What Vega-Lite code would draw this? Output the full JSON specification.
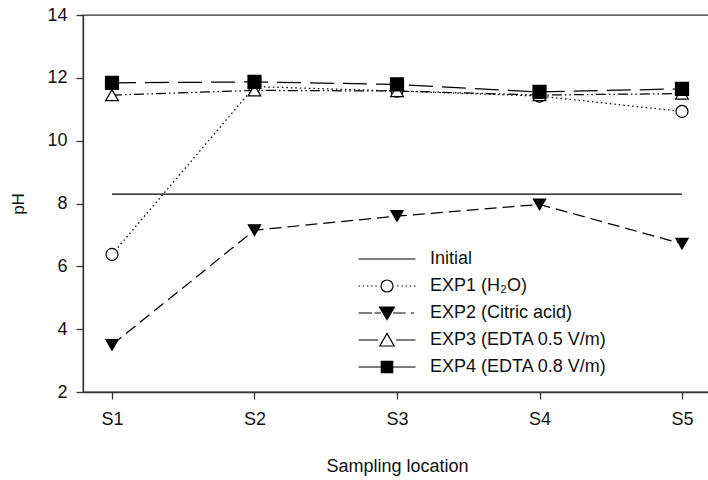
{
  "$schema": "https://vega.github.io/schema/vega-lite/v6.json",
  "width": 628,
  "height": 377,
  "autosize": {"type": "none"},
  "padding": {"left": 83, "top": 15, "right": 0, "bottom": 88},
  "background": "white",
  "config": {
    "font": "Liberation Sans",
    "view": {"stroke": "#333333", "strokeWidth": 1.3},
    "axis": {
      "labelFontSize": 18,
      "titleFontSize": 18,
      "titleFontWeight": "normal",
      "labelColor": "#111111",
      "titleColor": "#111111",
      "domainColor": "#333333",
      "tickColor": "#333333",
      "domainWidth": 1.3,
      "tickWidth": 1.3,
      "grid": false
    }
  },
  "data": {
    "values": [
      {"series": "Initial", "location": "S1", "pH": 8.3},
      {"series": "Initial", "location": "S2", "pH": 8.3},
      {"series": "Initial", "location": "S3", "pH": 8.3},
      {"series": "Initial", "location": "S4", "pH": 8.3},
      {"series": "Initial", "location": "S5", "pH": 8.3},
      {"series": "EXP1 (H₂O)", "location": "S1", "pH": 6.38},
      {"series": "EXP1 (H₂O)", "location": "S2", "pH": 11.72},
      {"series": "EXP1 (H₂O)", "location": "S3", "pH": 11.58},
      {"series": "EXP1 (H₂O)", "location": "S4", "pH": 11.42},
      {"series": "EXP1 (H₂O)", "location": "S5", "pH": 10.93},
      {"series": "EXP2 (Citric acid)", "location": "S1", "pH": 3.5},
      {"series": "EXP2 (Citric acid)", "location": "S2", "pH": 7.15},
      {"series": "EXP2 (Citric acid)", "location": "S3", "pH": 7.6},
      {"series": "EXP2 (Citric acid)", "location": "S4", "pH": 7.97},
      {"series": "EXP2 (Citric acid)", "location": "S5", "pH": 6.72},
      {"series": "EXP3 (EDTA 0.5 V/m)", "location": "S1", "pH": 11.45},
      {"series": "EXP3 (EDTA 0.5 V/m)", "location": "S2", "pH": 11.6},
      {"series": "EXP3 (EDTA 0.5 V/m)", "location": "S3", "pH": 11.58},
      {"series": "EXP3 (EDTA 0.5 V/m)", "location": "S4", "pH": 11.45},
      {"series": "EXP3 (EDTA 0.5 V/m)", "location": "S5", "pH": 11.5},
      {"series": "EXP4 (EDTA 0.8 V/m)", "location": "S1", "pH": 11.84},
      {"series": "EXP4 (EDTA 0.8 V/m)", "location": "S2", "pH": 11.87},
      {"series": "EXP4 (EDTA 0.8 V/m)", "location": "S3", "pH": 11.79},
      {"series": "EXP4 (EDTA 0.8 V/m)", "location": "S4", "pH": 11.55},
      {"series": "EXP4 (EDTA 0.8 V/m)", "location": "S5", "pH": 11.65}
    ]
  },
  "encoding": {
    "x": {
      "field": "location",
      "type": "ordinal",
      "scale": {"type": "point", "padding": 0.2035},
      "axis": {"title": "Sampling location", "labelAngle": 0, "tickSize": 7, "labelPadding": 11, "titlePadding": 29}
    },
    "y": {
      "field": "pH",
      "type": "quantitative",
      "scale": {"domain": [2, 14], "nice": false, "zero": false},
      "axis": {"title": "pH", "titleFontSize": 17, "values": [2, 4, 6, 8, 10, 12, 14], "tickSize": 7, "labelPadding": 9, "titlePadding": 19}
    }
  },
  "layer": [
    {
      "mark": {"type": "line", "color": "black", "strokeWidth": 1.25},
      "encoding": {
        "strokeDash": {
          "field": "series",
          "type": "nominal",
          "scale": {
            "domain": ["EXP1 (H₂O)", "EXP2 (Citric acid)", "EXP3 (EDTA 0.5 V/m)", "EXP4 (EDTA 0.8 V/m)", "Initial"],
            "range": [[1.5, 3], [12, 6], [10, 3, 1.5, 3, 1.5, 3], [24, 9], [1, 0]]
          },
          "legend": null
        }
      }
    },
    {
      "transform": [{"filter": "datum.series != 'Initial'"}],
      "mark": {"type": "point", "filled": true, "stroke": "black", "strokeWidth": 1.2, "opacity": 1},
      "encoding": {
        "shape": {
          "field": "series",
          "type": "nominal",
          "scale": {
            "domain": ["EXP1 (H₂O)", "EXP2 (Citric acid)", "EXP3 (EDTA 0.5 V/m)", "EXP4 (EDTA 0.8 V/m)"],
            "range": ["circle", "triangle-down", "triangle-up", "square"]
          },
          "legend": null
        },
        "size": {
          "field": "series",
          "type": "ordinal",
          "scale": {
            "domain": ["EXP1 (H₂O)", "EXP2 (Citric acid)", "EXP3 (EDTA 0.5 V/m)", "EXP4 (EDTA 0.8 V/m)"],
            "range": [144, 170, 170, 121]
          },
          "legend": null
        },
        "fill": {
          "field": "series",
          "type": "nominal",
          "scale": {
            "domain": ["Initial", "EXP1 (H₂O)", "EXP2 (Citric acid)", "EXP3 (EDTA 0.5 V/m)", "EXP4 (EDTA 0.8 V/m)"],
            "range": ["black", "white", "black", "white", "black"]
          },
          "legend": {
            "title": null,
            "orient": "none",
            "legendX": 273,
            "legendY": 233,
            "padding": 0,
            "offset": 0,
            "symbolSize": 400,
            "symbolStrokeWidth": 1.2,
            "symbolStrokeColor": "black",
            "symbolOpacity": 1,
            "symbolType": {"expr": "datum.value == 'Initial' ? 'M-0.85,0H4.85' : datum.value == 'EXP1 (H₂O)' ? 'M-0.85,0h0.15M-0.43,0h0.15M-0.01,0h0.15M0.41,0h0.15M0.83,0h0.15M3.02,0h0.15M3.44,0h0.15M3.86,0h0.15M4.28,0h0.15M4.7,0h0.15M1.4,0A0.6,0.6,0,1,0,2.6,0A0.6,0.6,0,1,0,1.4,0Z' : datum.value == 'EXP2 (Citric acid)' ? 'M-0.85,0H0.5M0.74,0H1.4M2.6,0H3.86M4.4,0H4.7M1.25,-0.6L2.75,-0.6L2,0.66Z' : datum.value == 'EXP3 (EDTA 0.5 V/m)' ? 'M-0.85,0H1.1M2.9,0H4.85M2,-0.66L2.72,0.6L1.28,0.6Z' : 'M-0.85,0H4.85M1.43,-0.57H2.57V0.57H1.43Z'"},
            "labelFontSize": 18,
            "labelColor": "#111111",
            "labelOffset": 52,
            "labelLimit": 0,
            "rowPadding": 7
          }
        }
      }
    }
  ]
}
